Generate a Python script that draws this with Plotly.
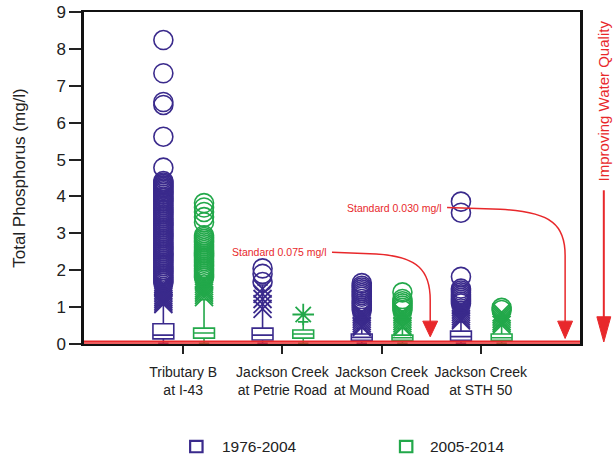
import plotly.graph_objects as go

# ---- data -------------------------------------------------------------
sites = ["Tributary B<br>at I-43", "Jackson Creek<br>at Petrie Road",
         "Jackson Creek<br>at Mound Road", "Jackson Creek<br>at STH 50"]
periods = ["1976-2004", "2005-2014"]
standards = [0.075, 0.030]

# box statistics (mg/l), one value per site
old_low = [0.02, 0.02, 0.02, 0.02]
old_q1 = [0.14, 0.11, 0.10, 0.10]
old_med = [0.24, 0.24, 0.18, 0.20]
old_q3 = [0.55, 0.43, 0.27, 0.35]
old_high = [1.05, 1.60, 0.42, 0.60]

new_low = [0.02, 0.02, 0.02, 0.02]
new_q1 = [0.16, 0.16, 0.10, 0.10]
new_med = [0.30, 0.27, 0.17, 0.17]
new_q3 = [0.43, 0.38, 0.24, 0.27]
new_high = [1.20, 0.60, 0.42, 0.50]

# extreme values (open circles) per site
old_extreme = [
    [8.24, 7.34, 6.56, 6.48, 5.62, 4.78, 4.42, 4.38, 4.34, 4.30, 4.26, 4.22,
     4.18, 4.14, 4.10, 4.05, 4.00, 3.96, 3.91, 3.86, 3.81, 3.76, 3.71, 3.66,
     3.61, 3.56, 3.51, 3.46, 3.41, 3.36, 3.31, 3.26, 3.21, 3.16, 3.11, 3.06,
     3.01, 2.96, 2.91, 2.86, 2.81, 2.76, 2.71, 2.66, 2.61, 2.56, 2.51, 2.46,
     2.41, 2.36, 2.31, 2.26, 2.21, 2.16, 2.11, 2.06, 2.01, 1.96, 1.91, 1.86,
     1.81, 1.76, 1.71, 1.66],
    [2.05, 1.90, 1.68],
    [1.65, 1.58, 1.53, 1.48, 1.43, 1.38, 1.33, 1.28, 1.22, 1.16, 1.10, 1.04,
     0.98, 0.92],
    [3.86, 3.56, 1.82, 1.50, 1.45, 1.40, 1.35, 1.30, 1.25, 1.20, 1.15, 1.10],
]
new_extreme = [
    [3.82, 3.70, 3.58, 3.44, 3.30, 2.95, 2.90, 2.85, 2.80, 2.75, 2.70, 2.65,
     2.60, 2.55, 2.50, 2.45, 2.40, 2.35, 2.30, 2.25, 2.20, 2.15, 2.10, 2.05,
     2.00, 1.95, 1.90, 1.85, 1.80],
    [],
    [1.40, 1.22, 1.16, 1.10, 1.04, 0.98, 0.92],
    [0.98, 0.92],
]
# outliers (crosses) per site
old_outlier = [
    [1.62, 1.57, 1.52, 1.47, 1.42, 1.37, 1.32, 1.27, 1.22, 1.17, 1.12, 1.08],
    [1.50, 1.36, 1.22, 1.08, 0.95],
    [0.86, 0.80, 0.74, 0.68, 0.62, 0.56, 0.50, 0.46],
    [1.05, 0.99, 0.93, 0.87, 0.81, 0.75, 0.69, 0.64],
]
new_outlier = [
    [1.75, 1.69, 1.63, 1.57, 1.51, 1.45, 1.39, 1.33, 1.27],
    [0.80],
    [0.86, 0.80, 0.74, 0.68, 0.62, 0.56, 0.50, 0.46],
    [0.86, 0.80, 0.74, 0.68, 0.62, 0.57, 0.52],
]

# ---- styling ----------------------------------------------------------
PURPLE = "#3a2a8c"
GREEN = "#22a84a"
RED = "#e8282b"
FONT = "Arial, Liberation Sans, sans-serif"
OFFSET = {"old": -0.20, "new": 0.21}
BOX_W = 0.21

fig = go.Figure()

series = [
    ("old", PURPLE, old_low, old_q1, old_med, old_q3, old_high, old_extreme, old_outlier),
    ("new", GREEN, new_low, new_q1, new_med, new_q3, new_high, new_extreme, new_outlier),
]

for key, color, low, q1, med, q3, high, extreme, outlier in series:
    for i in range(len(sites)):
        pos = i + 1 + OFFSET[key]
        # crosses (asterisk for the single point at Petrie Road, recent period)
        if outlier[i]:
            sym = "asterisk-open" if (key == "new" and i == 1) else "x-thin-open"
            fig.add_trace(go.Scatter(
                x=[pos] * len(outlier[i]), y=outlier[i], mode="markers",
                marker=dict(symbol=sym, size=18, color=color,
                            line=dict(color=color, width=1.8)),
                showlegend=False, hoverinfo="y"))
        if extreme[i]:
            fig.add_trace(go.Scatter(
                x=[pos] * len(extreme[i]), y=extreme[i], mode="markers",
                marker=dict(symbol="circle-open", size=19, color=color,
                            line=dict(color=color, width=1.6)),
                showlegend=False, hoverinfo="y"))
        fig.add_trace(go.Box(
            x=[pos], q1=[q1[i]], median=[med[i]], q3=[q3[i]],
            lowerfence=[low[i]], upperfence=[high[i]],
            width=BOX_W, boxpoints=False,
            line=dict(color=color, width=1.6), fillcolor="white",
            showlegend=False, hoverinfo="skip"))

# standard reference lines
for s in standards:
    fig.add_trace(go.Scatter(x=[0, 5], y=[s, s], mode="lines",
                             line=dict(color=RED, width=1.5),
                             showlegend=False, hoverinfo="skip"))

# curved call-out arrows for each standard
callouts = [
    # label, label end (x,y), arrow column x, standard
    ("Standard 0.075 mg/l", 2.50, 2.49, 3.49, standards[0]),
    ("Standard 0.030 mg/l", 3.66, 3.70, 4.85, standards[1]),
]
for text, x0, y0, xa, s in callouts:
    fig.add_annotation(x=x0 - 0.03, y=y0, xref="x", yref="y", text=text,
                       showarrow=False, xanchor="right", yanchor="middle",
                       font=dict(family=FONT, size=10.5, color=RED))
    xm = x0 + (xa - x0) * 0.45
    path = (f"M {x0},{y0} L {xm},{y0 - 0.05} "
            f"C {xa - 0.12},{y0 - 0.12} {xa},{y0 - 0.5} {xa},{y0 - 1.3} "
            f"L {xa},{0.55}")
    fig.add_shape(type="path", path=path, xref="x", yref="y",
                  line=dict(color=RED, width=1.5))
    head = (f"M {xa - 0.075},{0.62} L {xa + 0.075},{0.62} "
            f"L {xa},{s + 0.12} Z")
    fig.add_shape(type="path", path=head, xref="x", yref="y",
                  line=dict(color=RED, width=1), fillcolor=RED)

# "Improving Water Quality" indicator beside the plot
fig.add_annotation(x=1.048, y=0.733, xref="paper", yref="paper",
                   text="Improving Water Quality", textangle=-90,
                   showarrow=False, xanchor="center", yanchor="middle",
                   font=dict(family=FONT, size=15, color=RED))
fig.add_shape(type="line", xref="paper", yref="paper",
              x0=1.048, x1=1.048, y0=0.463, y1=0.07,
              line=dict(color=RED, width=2))
fig.add_shape(type="path", xref="paper", yref="paper",
              path="M 1.034,0.082 L 1.062,0.082 L 1.048,0.006 Z",
              line=dict(color=RED, width=1), fillcolor=RED)

# legend drawn below the axis
for (px, tx), color, label in zip([(0.214, 0.274), (0.637, 0.694)],
                                   [PURPLE, GREEN], periods):
    fig.add_shape(type="rect", xref="paper", yref="paper",
                  x0=px, x1=px + 0.025, y0=-0.292, y1=-0.326,
                  line=dict(color=color, width=2.2), fillcolor="white")
    fig.add_annotation(x=tx, y=-0.309, xref="paper", yref="paper",
                       text=label, showarrow=False, xanchor="left",
                       yanchor="middle",
                       font=dict(family=FONT, size=15.5, color="#222"))

fig.update_layout(
    width=613, height=460,
    margin=dict(l=84, r=33, t=12, b=116),
    paper_bgcolor="white", plot_bgcolor="white",
    font=dict(family=FONT, color="#222"),
    showlegend=False,
    xaxis=dict(range=[0, 5], tickmode="array", tickvals=[1, 2, 3, 4],
               ticktext=sites, ticks="outside", ticklen=8, tickwidth=1.5,
               tickcolor="#222", showline=True, linecolor="#111",
               linewidth=2.2, mirror=True, showgrid=False, zeroline=False,
               automargin=False, ticklabelstandoff=6,
               tickfont=dict(family=FONT, size=14, color="#222")),
    yaxis=dict(range=[0, 9], dtick=1, ticks="outside", ticklen=12,
               tickwidth=1.5, tickcolor="#222", showline=True,
               linecolor="#111", linewidth=2.5, mirror=True,
               showgrid=False, zeroline=False, automargin=False,
               tickfont=dict(family=FONT, size=17, color="#222"),
               title=dict(text="Total Phosphorus (mg/l)", standoff=27,
                          font=dict(family=FONT, size=17, color="#222"))),
)

fig.write_html("out.html")
